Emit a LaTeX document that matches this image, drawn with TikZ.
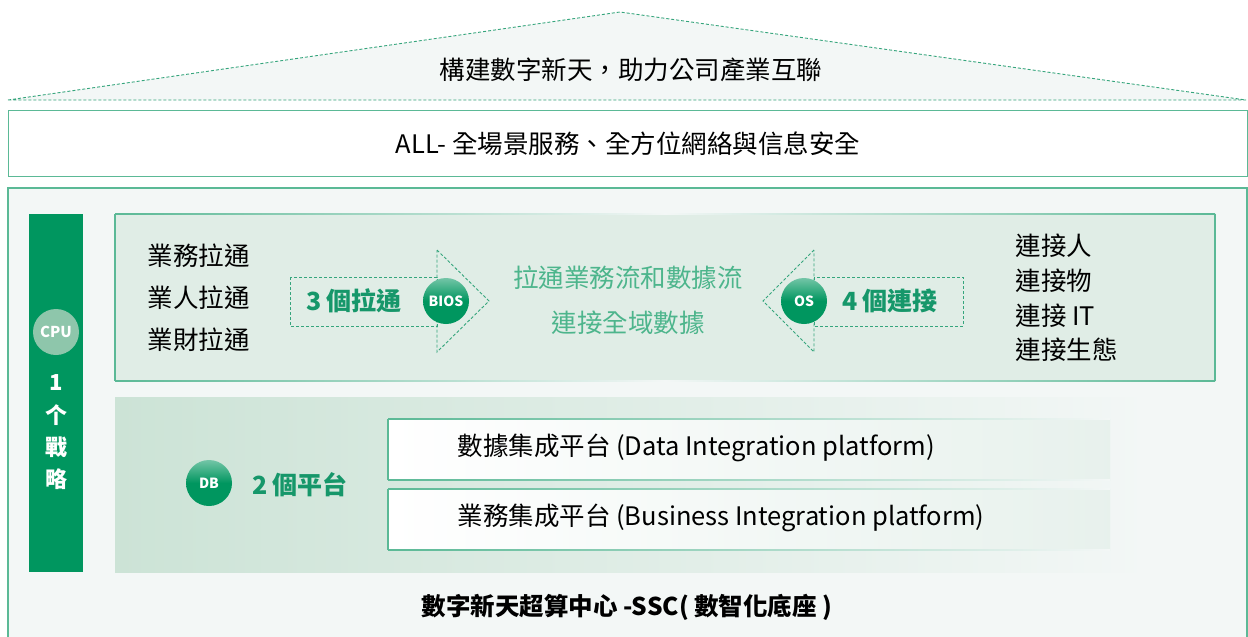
\documentclass[tikz,border=0pt]{standalone}
\usepackage{fontspec}
\setmainfont{Noto Sans CJK TC}
\usetikzlibrary{positioning}
\definecolor{deepgreen}{HTML}{00965F}
\definecolor{linegreen}{HTML}{5BB996}
\definecolor{dashgreen}{HTML}{35A57C}
\definecolor{titlegreen}{HTML}{16976A}
\definecolor{softgreen}{HTML}{4DB58C}
\definecolor{pagebg}{HTML}{F3F7F6}
\definecolor{toppanel}{HTML}{E0EDE6}
\definecolor{lowpanel}{HTML}{CCE3D6}
\definecolor{cpuchip}{HTML}{8EC6AB}
\tikzset{
	framebox/.style={draw=linegreen, line width=1.2pt},
	hint/.style={draw=dashgreen, line width=.9pt, dash pattern=on 3pt off 2pt},
	chip/.style={circle, minimum size=46pt, inner sep=0pt, text=white, font=\fontsize{14}{14}\selectfont\bfseries, top color=deepgreen!55!white, bottom color=deepgreen, middle color=deepgreen},
	bigtxt/.style={font=\fontsize{25.5}{28}\selectfont},
	listtxt/.style={anchor=west, font=\fontsize{25.5}{28}\selectfont},
	countlbl/.style={text=titlegreen, font=\fontsize{25}{27}\selectfont\bfseries},
	barlbl/.style={text=white, font=\fontsize{22}{23}\selectfont\bfseries},
	edgefade/.style={left color=linegreen, right color=linegreen, middle color=pagebg}
}

\begin{document}
\begin{tikzpicture}[x=1pt, y=-1pt]
		\newcommand{\roofy}{100}
		\newcommand{\panelleft}{115}
		\newcommand{\panelright}{1215}
		\newcommand{\armtop}{250}
		\newcommand{\armbot}{352}
		\newcommand{\armmid}{301}
		\useasboundingbox (0,0) rectangle (1248,637);
		\fill[white] (0,0) rectangle (1248,637);

		% roof
		\fill[pagebg] (8,\roofy) -- (620,12) -- (1246,\roofy) -- cycle;
		\draw[hint] (8,\roofy) -- (620,12) -- (1246,\roofy) -- cycle;
		\node[bigtxt] (motto) at (631,70) {構建數字新天，助力公司產業互聯};

		\node[framebox, fill=white, minimum width=1239pt, minimum height=66pt, bigtxt] (allbox) at (628,143.5) {ALL- 全場景服務、全方位網絡與信息安全};

		% base
		\draw[framebox, fill=pagebg] (8,188) rectangle (1247,645);
		\node[fill=deepgreen, minimum width=54pt, minimum height=358pt, inner sep=0pt] (cpubar) at (56,393) {};
		\node[circle, fill=cpuchip, minimum size=46pt, inner sep=0pt, text=white, font=\fontsize{15}{15}\selectfont\bfseries] (cpu) at (56,332) {CPU};
		\node[barlbl] (one) at (56,383) {1};
		\node[barlbl] (ge) at (56,415) {个};
		\node[barlbl] (zhan) at (56,447) {戰};
		\node[barlbl] (lue) at (56,479) {略};

		% upper panel
		\shade[left color=toppanel, middle color=pagebg!60!toppanel, right color=toppanel] (\panelleft,214) rectangle (\panelright,381);
		\shade[edgefade] (\panelleft,213.4) rectangle (\panelright,214.6);
		\shade[edgefade] (\panelleft,380.4) rectangle (\panelright,381.6);
		\draw[framebox] (\panelleft,214) -- (\panelleft,381);
		\draw[framebox] (\panelright,214) -- (\panelright,381);

		\node[listtxt] (pull1) at (144,256) {業務拉通};
		\node[listtxt] (pull2) at (144,298) {業人拉通};
		\node[listtxt] (pull3) at (144,340) {業財拉通};

		\draw[hint] (290,277) rectangle (437,326);
		\draw[hint] (437,\armtop) -- (489,\armmid) -- (437,\armbot) -- cycle;
		\node[countlbl] (three) at (354,301) {3 個拉通};
		\node[chip] (bios) at (446,\armmid) {BIOS};

		\node[bigtxt, text=softgreen] (flow) at (628,278) {拉通業務流和數據流};
		\node[bigtxt, text=softgreen] (domain) at (628,323) {連接全域數據};

		\draw[hint] (814,277) rectangle (963,326);
		\draw[hint] (814,\armtop) -- (763,\armmid) -- (814,\armbot) -- cycle;
		\node[chip] (os) at (804,\armmid) {OS};
		\node[countlbl] (four) at (890,301) {4 個連接};

		\node[listtxt] (link1) at (1012,246) {連接人};
		\node[listtxt] (link2) at (1012,281) {連接物};
		\node[listtxt] (link3) at (1012,316) {連接 IT};
		\node[listtxt] (link4) at (1012,350) {連接生態};

		% lower panel
		\shade[left color=lowpanel, middle color=lowpanel!90!pagebg, right color=pagebg] (\panelleft,397) rectangle (1150,572);
		\node[chip] (db) at (209,483) {DB};
		\node[countlbl] (two) at (300,485) {2 個平台};

		\shade[left color=white, middle color=white, right color=pagebg!70!lowpanel] (388,419) rectangle (1110,480);
		\shade[left color=linegreen, right color=pagebg] (388,418.4) rectangle (1110,419.6);
		\shade[left color=linegreen, right color=pagebg] (388,479.4) rectangle (1110,480.6);
		\draw[framebox] (388,419) -- (388,480);
		\node[listtxt] (dataplat) at (454,448) {數據集成平台 (Data Integration platform)};

		\shade[left color=white, middle color=white, right color=pagebg!70!lowpanel] (388,489) rectangle (1110,550);
		\shade[left color=linegreen, right color=pagebg] (388,488.4) rectangle (1110,489.6);
		\shade[left color=linegreen, right color=pagebg] (388,549.4) rectangle (1110,550.6);
		\draw[framebox] (388,489) -- (388,550);
		\node[listtxt] (bizplat) at (454,518) {業務集成平台 (Business Integration platform)};

		\node[font=\fontsize{24.5}{27}\selectfont\bfseries] (ssc) at (627,607) {數字新天超算中心 -SSC( 數智化底座 )};
	\end{tikzpicture}
\end{document}
